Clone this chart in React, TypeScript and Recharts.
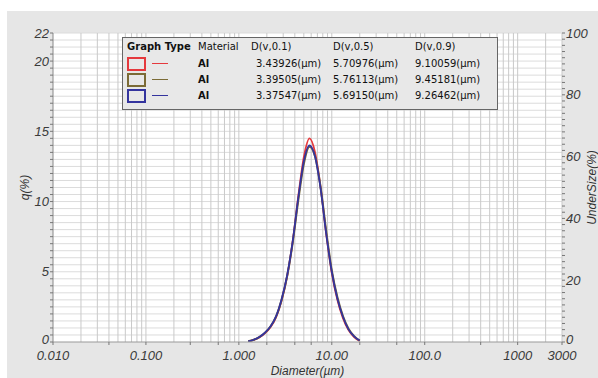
import { ComposedChart, Line, XAxis, YAxis, ReferenceLine, ReferenceArea } from 'recharts';

// channel diameters (µm) and q(%)
const diameters = [1.259, 1.445, 1.66, 1.905, 2.188, 2.512, 2.884, 3.311, 3.802, 4.365, 5.012, 5.754, 6.607, 7.586, 8.71, 10.0, 11.48, 13.18, 15.14, 17.38, 19.95];
const qRed = [0.05, 0.15, 0.33, 0.62, 1.05, 1.75, 2.95, 4.7, 7.2, 10.4, 13.2, 14.5, 13.5, 11.0, 7.7, 4.9, 3.0, 1.7, 0.85, 0.35, 0.08];
const qOlive = [0.05, 0.16, 0.35, 0.65, 1.1, 1.8, 3.0, 4.7, 7.1, 10.1, 12.7, 13.9, 13.2, 11.0, 7.9, 5.1, 3.2, 1.85, 0.95, 0.42, 0.1];
const qBlue = [0.05, 0.16, 0.35, 0.66, 1.1, 1.82, 3.05, 4.75, 7.2, 10.3, 12.9, 14.0, 13.2, 10.9, 7.7, 5.0, 3.1, 1.8, 0.9, 0.4, 0.1];

const xMajorTicks = [0.01, 0.1, 1, 10, 100, 1000, 3000];
const xTickLabels = ['0.010', '0.100', '1.000', '10.00', '100.0', '1000', '3000'];
const qTicks = [0, 5, 10, 15, 20, 22];
const underTicks = [0, 20, 40, 60, 80, 100];

const materials = ['Al', 'Al', 'Al'];
const d10 = ['3.43926', '3.39505', '3.37547'];
const d50 = ['5.70976', '5.76113', '5.69150'];
const d90 = ['9.10059', '9.45181', '9.26462'];
const colors = ['#e5393d', '#7b6b36', '#34349e'];

const data = diameters.map((d, i) => ({ d, red: qRed[i], olive: qOlive[i], blue: qBlue[i] }));

// log grid positions 1..9 x 10^k inside the domain
const xGrid: number[] = [];
for (let k = -2; k <= 3; k++) {
  for (let m = 1; m <= 9; m++) {
    const v = +(m * Math.pow(10, k)).toPrecision(3);
    if (v >= 0.01 && v <= 3000) xGrid.push(v);
  }
}
const qGrid: number[] = [];
for (let v = 0; v <= 22; v += 0.5) qGrid.push(v);
const underGrid: number[] = [];
for (let v = 0; v <= 100; v += 2) underGrid.push(v);

const font = '"Liberation Sans", Arial, sans-serif';
const tickColor = '#3a3a3a';

const near = (a: number, b: number) => Math.abs(a - b) / b < 1e-6;

const XTick = ({ x, y, payload }: any) => {
  const idx = xMajorTicks.findIndex((t) => near(payload.value, t));
  if (idx < 0) return <g />;
  return (
    <text x={x} y={y} dy="0.78em" textAnchor="middle" fontSize={13} fontStyle="italic" fontFamily={font} fill={tickColor}>
      {xTickLabels[idx]}
    </text>
  );
};

const QTick = ({ x, y, payload }: any) => {
  if (!qTicks.includes(payload.value)) return <g />;
  const shift = payload.value === 0 ? -3 : 0;
  return (
    <text x={x} y={y + shift} dy="0.35em" textAnchor="end" fontSize={13} fontStyle="italic" fontFamily={font} fill={tickColor}>
      {payload.value}
    </text>
  );
};

const UnderTick = ({ x, y, payload }: any) => {
  if (!underTicks.includes(payload.value)) return <g />;
  const shift = payload.value === 0 ? -3 : 0;
  return (
    <text x={x} y={y + shift} dy="0.35em" textAnchor="start" fontSize={13} fontStyle="italic" fontFamily={font} fill={tickColor}>
      {payload.value}
    </text>
  );
};

const cell = (left: number, text: string, bold = false) => (
  <span style={{ position: 'absolute', left, whiteSpace: 'nowrap', fontWeight: bold ? 'bold' : 'normal' }}>{text}</span>
);

const App = () => {
  return (
    <div style={{ position: 'absolute', left: 0, top: 0, width: 598, height: 378, background: '#fff' }}>
      <div style={{ position: 'absolute', left: 7, top: 11, width: 591, height: 367, background: '#e6e6e6' }} />
      <div style={{ position: 'absolute', left: 0, top: 0 }}>
        <ComposedChart width={598} height={378} data={data} margin={{ top: 33, right: 0, bottom: 0, left: 8 }}>
          <XAxis
            dataKey="d"
            type="number"
            scale="log"
            domain={[0.01, 3000]}
            ticks={xGrid}
            allowDataOverflow
            tick={XTick}
            tickSize={3}
            tickMargin={5}
            tickLine={{ stroke: '#777' }}
            axisLine={{ stroke: '#999' }}
            height={36}
            label={{ value: 'Diameter(µm)', position: 'center', dy: 11, fontSize: 12, fontStyle: 'italic', fontFamily: font, fill: '#333' }}
          />
          <YAxis
            yAxisId="q"
            domain={[0, 22]}
            ticks={qGrid}
            interval={0}
            allowDataOverflow
            tick={QTick}
            tickSize={3}
            tickMargin={1}
            tickLine={{ stroke: '#777' }}
            axisLine={{ stroke: '#888' }}
            width={45}
            label={{ value: 'q(%)', angle: -90, position: 'center', dx: -6, fontSize: 12, fontStyle: 'italic', fontFamily: font, fill: '#333' }}
          />
          <YAxis
            yAxisId="under"
            orientation="right"
            domain={[0, 100]}
            ticks={underGrid}
            interval={0}
            allowDataOverflow
            tick={UnderTick}
            tickSize={3}
            tickMargin={1}
            tickLine={{ stroke: '#777' }}
            axisLine={false}
            width={36}
            label={{ value: 'UnderSize(%)', angle: -90, position: 'center', dx: 12, fontSize: 12, fontStyle: 'italic', fontFamily: font, fill: '#333' }}
          />
          <ReferenceArea yAxisId="q" x1={0.01} x2={3000} y1={0} y2={22} fill="#ffffff" fillOpacity={1} stroke="none" />
          {qGrid.slice(1).map((v) => (
            <ReferenceLine key={'h' + v} yAxisId="q" y={v} stroke="#dcdcdc" strokeWidth={1} />
          ))}
          {xGrid.slice(1).map((v) => (
            <ReferenceLine key={'v' + v} yAxisId="q" x={v} stroke="#c9c9c9" strokeWidth={1} />
          ))}
          <Line yAxisId="q" dataKey="red" type="monotone" stroke={colors[0]} strokeWidth={1.8} dot={false} isAnimationActive={false} />
          <Line yAxisId="q" dataKey="olive" type="monotone" stroke={colors[1]} strokeWidth={2} dot={false} isAnimationActive={false} />
          <Line yAxisId="q" dataKey="blue" type="monotone" stroke={colors[2]} strokeWidth={1.8} dot={false} isAnimationActive={false} />
        </ComposedChart>
      </div>
      <div
        style={{
          position: 'absolute',
          left: 122,
          top: 37,
          width: 374,
          height: 71,
          background: '#e8e8e8',
          border: '1px solid #666',
          fontFamily: '"DejaVu Sans", Verdana, sans-serif',
          fontSize: 10,
          color: '#111',
        }}
      >
        <div style={{ position: 'absolute', top: 3, left: 0, height: 12 }}>
          {cell(4, 'Graph Type', true)}
          {cell(75, 'Material')}
          {cell(128, 'D(v,0.1)')}
          {cell(210, 'D(v,0.5)')}
          {cell(292, 'D(v,0.9)')}
        </div>
        {materials.map((m, i) => (
          <div key={i} style={{ position: 'absolute', top: 19 + i * 16, left: 0, height: 14, width: '100%' }}>
            <div style={{ position: 'absolute', left: 4, top: 0, width: 15, height: 10, border: `2px solid ${colors[i]}` }} />
            <div style={{ position: 'absolute', left: 29, top: 6, width: 16, height: 1, background: colors[i] }} />
            <div style={{ position: 'absolute', top: 0, left: 0, lineHeight: '14px' }}>
              {cell(75, m, true)}
              {cell(133, d10[i] + '(µm)')}
              {cell(210, d50[i] + '(µm)')}
              {cell(292, d90[i] + '(µm)')}
            </div>
          </div>
        ))}
      </div>
    </div>
  );
};

export default App;
